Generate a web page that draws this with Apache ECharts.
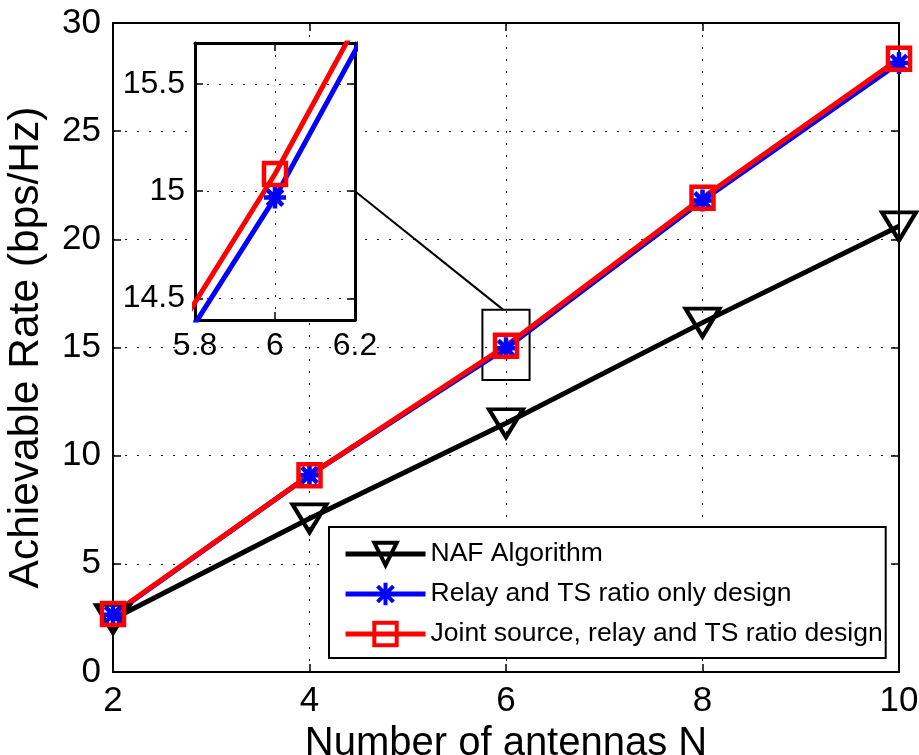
<!DOCTYPE html>
<html>
<head>
<meta charset="utf-8">
<script src="https://cdn.jsdelivr.net/npm/echarts@6/dist/echarts.min.js"></script>
<style>
  html, body { margin: 0; padding: 0; background: #fff; }
  #chart { width: 919px; height: 755px; }
</style>
</head>
<body>
<div id="chart"></div>
<script>
// Number of antennas N (x values)
const antennas = [2, 4, 6, 8, 10];
// Achievable rate (bps/Hz) for each scheme
const nafRate = [2.45, 7.1, 11.5, 16.15, 20.6];
const relayTsRate = [2.65, 9.1, 14.97, 21.8, 28.15];
const jointRate = [2.68, 9.1, 15.08, 21.92, 28.35];
const seriesNames = [
  'NAF Algorithm',
  'Relay and TS ratio only design',
  'Joint source, relay and TS ratio design'
];
// Axis ranges of the main plot and of the magnified view around N = 6
const mainX = { min: 2, max: 10, step: 2 };
const mainY = { min: 0, max: 30, step: 5 };
const zoomX = { min: 5.8, max: 6.2, step: 0.2 };
const zoomY = { min: 14.4, max: 15.69 };
// Region of the main plot that the magnified view shows (outline box)
const zoomBoxCorners = [[5.76, 16.75], [6.24, 13.5]];

const FONT = '"Liberation Sans", Arial, Helvetica, sans-serif';
const pairs = (ys) => antennas.map((x, i) => [x, ys[i]]);
const dotted = { type: [2, 10], color: '#222', width: 1 };
const hollow = 'rgba(0,0,0,0)';
const asterisk = 'path://M10,0L10,20M0,10L20,10M2.93,2.93L17.07,17.07M2.93,17.07L17.07,2.93';

function frameAxis(position, gridIndex, range, opts) {
  const ax = {
    type: 'value',
    gridIndex: gridIndex,
    position: position,
    min: range.min,
    max: range.max,
    axisLine: { show: true, onZero: false, lineStyle: { color: '#000', width: opts.lineWidth } },
    axisTick: { show: true, inside: true, length: 8, lineStyle: { color: '#000', width: 1.5 } },
    axisLabel: { show: false },
    splitLine: { show: false },
    z: opts.z
  };
  if (range.step !== undefined) ax.interval = range.step;
  if (opts.splitNumber) ax.splitNumber = opts.splitNumber;
  return ax;
}

function styleSeries(name, ys, kind, xIdx, yIdx, z) {
  const s = {
    name: name,
    type: 'line',
    xAxisIndex: xIdx,
    yAxisIndex: yIdx,
    data: pairs(ys),
    z: z,
    clip: true,
    showAllSymbol: true
  };
  if (kind === 'naf') {
    s.symbol = 'triangle';
    s.symbolRotate = 180;
    s.symbolSize = [34, 28];
    s.lineStyle = { color: '#000', width: 5 };
    s.itemStyle = { color: hollow, borderColor: '#000', borderWidth: 4 };
  } else if (kind === 'relay') {
    s.symbol = asterisk;
    s.symbolSize = 22;
    s.lineStyle = { color: '#0000ff', width: 5 };
    s.itemStyle = { color: '#0000ff', borderColor: '#0000ff', borderWidth: 4.5 };
  } else {
    s.symbol = 'rect';
    s.symbolSize = 22;
    s.lineStyle = { color: '#ff0000', width: 5 };
    s.itemStyle = { color: hollow, borderColor: '#ff0000', borderWidth: 4.5 };
  }
  return s;
}

const chart = echarts.init(document.getElementById('chart'), null, { renderer: 'canvas' });

// main axes: labelled bottom/left, plus top/right frame with inward ticks
const xMain = frameAxis('bottom', 0, mainX, { lineWidth: 2, z: 0 });
xMain.axisLabel = { show: true, color: '#000', fontSize: 35, fontFamily: FONT, margin: 12 };
xMain.splitLine = { show: true, lineStyle: dotted };
xMain.name = 'Number of antennas N';
xMain.nameLocation = 'middle';
xMain.nameGap = 47;
xMain.nameTextStyle = { color: '#000', fontSize: 40, fontFamily: FONT };

const yMain = frameAxis('left', 0, mainY, { lineWidth: 2, z: 0 });
yMain.axisLabel = { show: true, color: '#000', fontSize: 35, fontFamily: FONT, margin: 12 };
yMain.splitLine = { show: true, lineStyle: dotted };
yMain.name = 'Achievable Rate (bps/Hz)';
yMain.nameLocation = 'middle';
yMain.nameGap = 65;
yMain.nameTextStyle = { color: '#000', fontSize: 42.5, fontFamily: FONT };

// magnified view axes
const xZoom = frameAxis('bottom', 1, zoomX, { lineWidth: 3, z: 6 });
xZoom.axisLabel = { show: true, color: '#000', fontSize: 32, fontFamily: FONT, margin: 10 };
xZoom.splitLine = { show: true, lineStyle: dotted };

const yZoom = frameAxis('left', 1, zoomY, { lineWidth: 3, z: 6, splitNumber: 3 });
yZoom.axisLabel = { show: true, color: '#000', fontSize: 32, fontFamily: FONT, margin: 10,
  showMinLabel: false, showMaxLabel: false };
yZoom.splitLine = { show: true, lineStyle: dotted };

const option = {
  animation: false,
  backgroundColor: '#fff',
  grid: [
    { left: 113, top: 23, width: 786, height: 649, show: false, z: 0,
      outerBoundsMode: 'none', containLabel: false },
    { left: 195, top: 43, width: 160, height: 277, show: true,
      backgroundColor: '#fff', borderWidth: 0, z: 5,
      outerBoundsMode: 'none', containLabel: false }
  ],
  xAxis: [
    xMain,
    frameAxis('top', 0, mainX, { lineWidth: 2, z: 0 }),
    xZoom,
    frameAxis('top', 1, zoomX, { lineWidth: 3, z: 6 })
  ],
  yAxis: [
    yMain,
    frameAxis('right', 0, mainY, { lineWidth: 2, z: 0 }),
    yZoom,
    frameAxis('right', 1, zoomY, { lineWidth: 3, z: 6, splitNumber: 3 })
  ],
  legend: {
    data: seriesNames,
    orient: 'vertical',
    left: 329,
    top: 527,
    padding: [13, 3, 10, 14],
    itemWidth: 80,
    itemHeight: 28,
    itemGap: 12,
    backgroundColor: '#fff',
    borderColor: '#000',
    borderWidth: 2,
    borderRadius: 0,
    selectedMode: false,
    lineStyle: { width: 5 },
    itemStyle: { borderWidth: 4 },
    textStyle: { color: '#000', fontSize: 26.5, fontFamily: FONT, lineHeight: 28 },
    z: 10
  },
  series: [
    Object.assign(styleSeries(seriesNames[0], nafRate, 'naf', 0, 0, 2), {
      markArea: {
        silent: true,
        itemStyle: { color: hollow, borderColor: '#000', borderWidth: 2 },
        label: { show: false },
        data: [[{ coord: zoomBoxCorners[0] }, { coord: zoomBoxCorners[1] }]]
      }
    }),
    styleSeries(seriesNames[1], relayTsRate, 'relay', 0, 0, 2),
    styleSeries(seriesNames[2], jointRate, 'joint', 0, 0, 2),
    styleSeries(seriesNames[0], nafRate, 'naf', 2, 2, 7),
    styleSeries(seriesNames[1], relayTsRate, 'relay', 2, 2, 7),
    styleSeries(seriesNames[2], jointRate, 'joint', 2, 2, 7)
  ]
};

chart.setOption(option);

// connector from the magnified view to the outlined region in the main plot
const from = chart.convertToPixel({ seriesIndex: 3 }, [zoomX.max, 15.0]);
const to = chart.convertToPixel({ seriesIndex: 0 }, [5.97, zoomBoxCorners[0][1]]);
chart.setOption({
  graphic: [{
    type: 'line',
    z: 20,
    shape: { x1: from[0], y1: from[1], x2: to[0], y2: to[1] },
    style: { stroke: '#000', lineWidth: 2 }
  }]
});
</script>
</body>
</html>
